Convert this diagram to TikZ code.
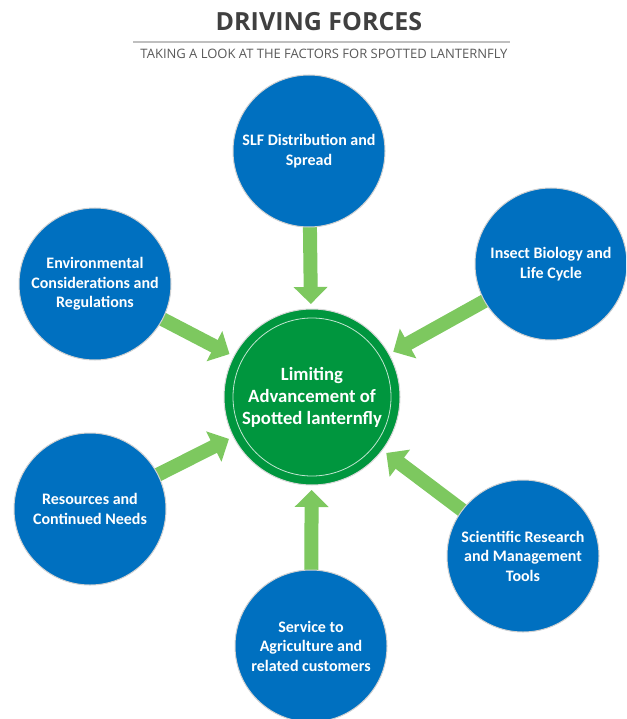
\documentclass[tikz,border=0pt]{standalone}
\usepackage{fontspec}
\setmainfont{Carlito}
\newfontfamily\titlefont{Open Sans}
\usetikzlibrary{arrows.meta}
\pgfdeclarelayer{bg}
\pgfsetlayers{bg,main}
\definecolor{slfblue}{RGB}{0,112,192}
\definecolor{slfgreen}{RGB}{0,150,62}
\definecolor{arrgreen}{RGB}{125,200,95}
\definecolor{titlegray}{RGB}{64,64,64}
\definecolor{subgray}{RGB}{89,89,89}
\definecolor{rulegray}{RGB}{191,191,191}
\begin{document}
\begin{tikzpicture}[x=1pt,y=-1pt,
  factor/.style={circle,fill=slfblue,draw=white!82!black,line width=1pt,
    minimum size=152pt,inner sep=0pt,outer sep=0pt,text=white,align=center,
    font=\bfseries\fontsize{16}{19.5}\selectfont},
  hub/.style={circle,fill=slfgreen,draw=white!85!black,line width=1pt,
    minimum size=176pt,inner sep=0pt,outer sep=0pt,text=white,align=center,
    font=\bfseries\fontsize{18.7}{22}\selectfont},
  push/.style={draw=arrgreen,line width=14pt,
    -{Triangle[width=33pt,length=17pt,fill=arrgreen]},shorten >=5pt},
  ring/.style={draw=white!75!slfgreen,line width=0.8pt}
]
\useasboundingbox (0,0) rectangle (626,719);
\clip (0,0) rectangle (626,719);

\node[font=\titlefont\bfseries\fontsize{25}{30}\selectfont,text=titlegray] (title) at (319,22) {DRIVING FORCES};
\draw[rulegray,line width=1.5pt] (133,42) -- (510,42);
\node[font=\titlefont\fontsize{13}{15}\selectfont,text=subgray] (sub) at (324,54) {TAKING A LOOK AT THE FACTORS FOR SPOTTED LANTERNFLY};

\node[hub] (hub) at (312,397) {Limiting\\Advancement of\\Spotted lanternfly};
\draw[ring] (hub.center) circle[radius=79pt];

\node[factor] (slf) at (309,151) {SLF Distribution and\\Spread};
\node[factor] (bio) at (551,264) {Insect Biology and\\Life Cycle};
\node[factor] (env) at (95,284) {Environmental\\Considerations and\\Regulations};
\node[factor] (res) at (90,509) {Resources and\\Continued Needs};
\node[factor] (ser) at (311,646) {Service to\\Agriculture and\\related customers};
\node[factor] (sci) at (523,556) {Scientific Research\\and Management\\Tools};

\begin{pgfonlayer}{bg}
\draw[push] (slf.center) -- (hub);
\draw[push] (bio.center) -- (hub);
\draw[push] (env.center) -- (hub);
\draw[push] (res.center) -- (hub);
\draw[push] (ser.center) -- (hub);
\draw[push] (sci.center) -- (hub);
\end{pgfonlayer}
\end{tikzpicture}
\end{document}
